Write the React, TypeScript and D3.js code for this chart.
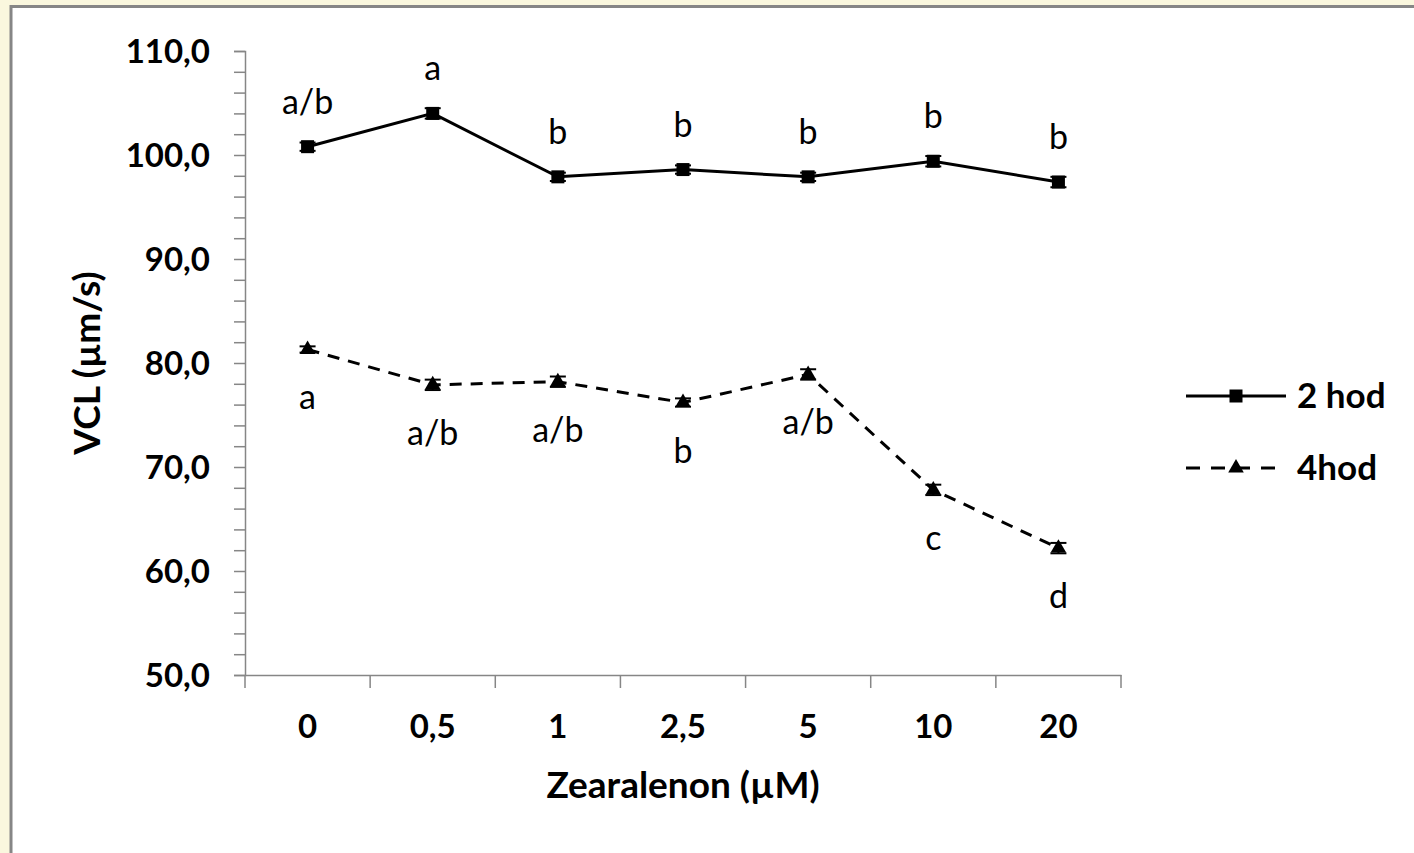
import React, { useEffect, useRef } from "react";
import * as d3 from "d3";

const categories = ["0", "0,5", "1", "2,5", "5", "10", "20"];
const series2h = [100.8, 104.0, 97.9, 98.6, 97.9, 99.4, 97.4];
const series4h = [81.3, 77.9, 78.2, 76.2, 78.9, 67.8, 62.2];
const err2h = [0.4, 0.5, 0.4, 0.4, 0.4, 0.5, 0.5];
const err4h = [0.3, 0.5, 0.5, 0.4, 0.5, 0.5, 0.5];
const letters2h = ["a/b", "a", "b", "b", "b", "b", "b"];
const letters4h = ["a", "a/b", "a/b", "b", "a/b", "c", "d"];
const yTicks = [50, 60, 70, 80, 90, 100, 110];
const legendLabels = ["2 hod", "4hod"];

const W = 1414;
const H = 853;
const FONT = "Lato, 'Open Sans', sans-serif";

export default function App() {
  const ref = useRef<SVGSVGElement>(null);

  useEffect(() => {
    const svg = d3.select(ref.current);
    svg.selectAll("*").remove();

    // background
    svg.append("rect").attr("width", W).attr("height", H).attr("fill", "#FAF7DE");
    svg.append("rect").attr("x", 11).attr("y", 6.5).attr("width", W + 10).attr("height", H + 10)
      .attr("fill", "#ffffff").attr("stroke", "#868686").attr("stroke-width", 3);

    const x = d3.scaleBand<string>().domain(categories).range([245, 1121]);
    const y = d3.scaleLinear().domain([50, 110]).range([675, 51]);
    const cx = (c: string) => (x(c) as number) + x.bandwidth() / 2;

    const axisColor = "#868686";
    // y axis
    const yAxis = d3.axisLeft(y).tickValues(d3.range(50, 110.01, 2)).tickSize(11).tickFormat(() => "");
    const gy = svg.append("g").attr("transform", "translate(245,0)").call(yAxis);
    gy.selectAll("path, line").attr("stroke", axisColor).attr("stroke-width", 1.5);

    // y tick labels
    svg.append("g").selectAll("text").data(yTicks).join("text")
      .attr("x", 210).attr("y", (d) => y(d) + 11.5)
      .attr("text-anchor", "end")
      .attr("font-family", FONT).attr("font-weight", 700).attr("font-size", 33)
      .attr("fill", "#000")
      .text((d) => d3.format(".1f")(d).replace(".", ","));

    // x axis
    const xAxis = d3.axisBottom(x).tickSize(0).tickFormat(() => "");
    const gx = svg.append("g").attr("transform", "translate(0,675)").call(xAxis);
    gx.selectAll("path").attr("stroke", axisColor).attr("stroke-width", 1.5);
    const bounds = categories.map((c) => x(c) as number).concat([1121]);
    svg.append("g").selectAll("line").data(bounds).join("line")
      .attr("x1", (d) => d).attr("x2", (d) => d).attr("y1", 675).attr("y2", 688)
      .attr("stroke", axisColor).attr("stroke-width", 1.5);

    svg.append("g").selectAll("text").data(categories).join("text")
      .attr("x", (d) => cx(d)).attr("y", 738)
      .attr("text-anchor", "middle")
      .attr("font-family", FONT).attr("font-weight", 700).attr("font-size", 33)
      .text((d) => d);

    // titles
    svg.append("text").attr("x", 683).attr("y", 798).attr("text-anchor", "middle")
      .attr("font-family", FONT).attr("font-weight", 700).attr("font-size", 37)
      .text("Zearalenon (µM)");
    svg.append("text").attr("transform", "translate(100,363) rotate(-90)").attr("text-anchor", "middle")
      .attr("font-family", FONT).attr("font-weight", 700).attr("font-size", 37)
      .text("VCL (µm/s)");

    const line = d3.line<number>().x((_, i) => cx(categories[i])).y((d) => y(d));

    // series lines
    svg.append("path").datum(series2h).attr("d", line).attr("fill", "none")
      .attr("stroke", "#000").attr("stroke-width", 3);
    svg.append("path").datum(series4h).attr("d", line).attr("fill", "none")
      .attr("stroke", "#000").attr("stroke-width", 3).attr("stroke-dasharray", "12 9");

    const drawErr = (vals: number[], errs: number[]) => {
      const g = svg.append("g");
      vals.forEach((v, i) => {
        const px = cx(categories[i]);
        const y1 = y(v + errs[i]);
        const y2 = y(v - errs[i]);
        g.append("line").attr("x1", px).attr("x2", px).attr("y1", y1).attr("y2", y2).attr("stroke", "#000").attr("stroke-width", 2);
        [y1, y2].forEach((yy) => g.append("line").attr("x1", px - 8).attr("x2", px + 8).attr("y1", yy).attr("y2", yy).attr("stroke", "#000").attr("stroke-width", 2));
      });
    };
    drawErr(series2h, err2h);
    drawErr(series4h, err4h);

    const square = d3.symbol().type(d3.symbolSquare).size(169);
    const tri = d3.symbol().type(d3.symbolTriangle).size(105);

    svg.append("g").selectAll("path").data(series2h).join("path")
      .attr("d", square()).attr("transform", (d, i) => `translate(${cx(categories[i])},${y(d)})`)
      .attr("fill", "#000");
    svg.append("g").selectAll("path").data(series4h).join("path")
      .attr("d", tri()).attr("transform", (d, i) => `translate(${cx(categories[i])},${y(d)})`)
      .attr("fill", "#000");

    // annotations
    svg.append("g").selectAll("text").data(series2h).join("text")
      .attr("x", (d, i) => cx(categories[i])).attr("y", (d) => y(d) - 33)
      .attr("text-anchor", "middle").attr("font-family", FONT).attr("font-size", 34)
      .text((d, i) => letters2h[i]);
    svg.append("g").selectAll("text").data(series4h).join("text")
      .attr("x", (d, i) => cx(categories[i])).attr("y", (d) => y(d) + 60)
      .attr("text-anchor", "middle").attr("font-family", FONT).attr("font-size", 34)
      .text((d, i) => letters4h[i]);

    // legend
    const lg = svg.append("g");
    const legY = [396, 468];
    legY.forEach((ly, i) => {
      lg.append("line").attr("x1", 1186).attr("x2", 1286).attr("y1", ly).attr("y2", ly)
        .attr("stroke", "#000").attr("stroke-width", 3)
        .attr("stroke-dasharray", i === 1 ? "14 11" : null);
      lg.append("path").attr("d", i === 0 ? square() : tri())
        .attr("transform", `translate(1236,${ly})`).attr("fill", "#000");
      lg.append("text").attr("x", 1297).attr("y", ly + 12)
        .attr("font-family", FONT).attr("font-weight", 700).attr("font-size", 35)
        .text(legendLabels[i]);
    });
  }, []);

  return (
    <svg ref={ref} width={W} height={H} style={{ position: "absolute", left: 0, top: 0, display: "block" }} />
  );
}
